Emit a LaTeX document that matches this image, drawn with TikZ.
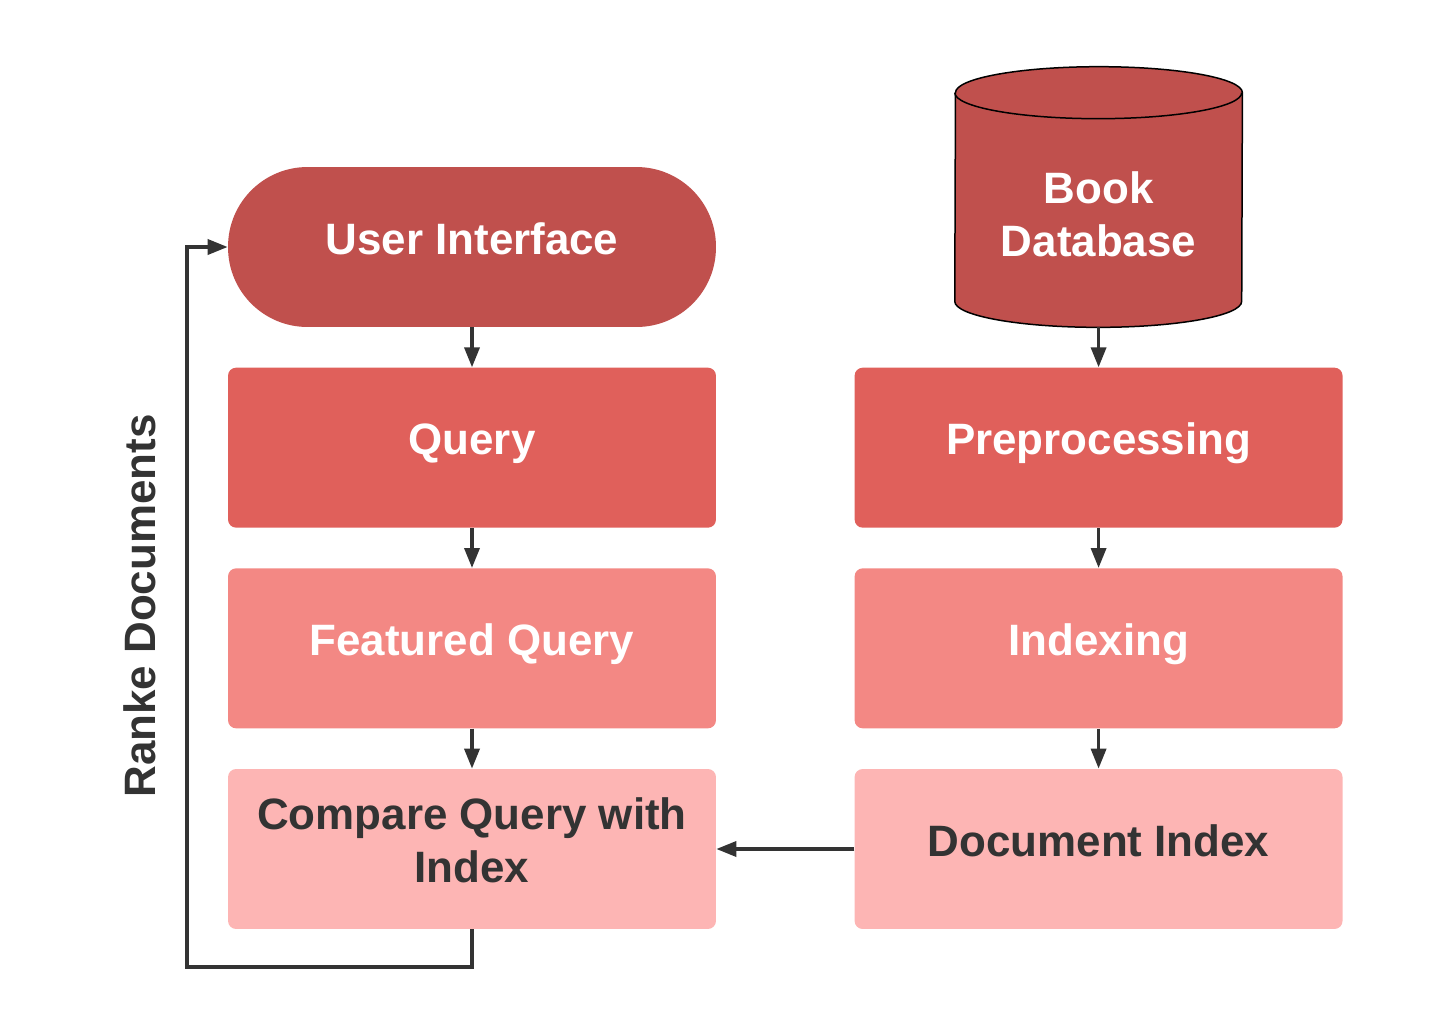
\documentclass[tikz,border=0pt]{standalone}
\usepackage{fontspec}
\setmainfont{Liberation Sans}
\usepackage{xcolor}
\usetikzlibrary{positioning, arrows.meta, backgrounds}
\definecolor{RedDark}{HTML}{C0504D}
\definecolor{RedMid}{HTML}{E0605B}
\definecolor{RedSoft}{HTML}{F38884}
\definecolor{RedPale}{HTML}{FDB5B4}
\definecolor{GreyDark}{HTML}{333333}

\begin{document}
\begin{tikzpicture}[
  x=0.02cm, y=-0.02cm,
  node distance=0.8cm and 2.76cm,
  stage/.style={rectangle, rounded corners=0.16cm, minimum width=9.76cm, minimum height=3.2cm, align=center, font=\fontsize{25}{30}\selectfont\bfseries, text=white, execute at end node={\rule[-0.35cm]{0pt}{0pt}}},
  store/.style={rectangle, minimum width=5.74cm, minimum height=4.52cm, align=center, font=\fontsize{25}{30}\selectfont\bfseries, text=white},
  arrow/.style={-{Triangle[length=0.4cm, width=0.3cm]}, line width=0.07cm, GreyDark}
]
  \useasboundingbox (0,0) rectangle (1429,1035);

  % left column
  \node[stage, fill=RedDark, rounded corners=1.59cm] (ui) at (472,247) {User Interface};
  \node[stage, fill=RedMid, below=of ui] (query) {Query};
  \node[stage, fill=RedSoft, below=of query] (feat) {Featured Query};
  \node[stage, fill=RedPale, text=GreyDark, below=of feat] (cmp) {Compare Query with\\Index};

  % right column
  \node[stage, fill=RedMid, right=of query] (prep) {Preprocessing};
  \node[stage, fill=RedSoft, below=of prep] (idx) {Indexing};
  \node[stage, fill=RedPale, text=GreyDark, below=of idx] (docidx) {Document Index};
  \node[store, above=of prep] (db) {Book\\Database};

  \begin{scope}[on background layer]
    \draw[fill=RedDark, draw=black, line width=0.03cm] ([yshift=0.52cm]db.south west)
      arc[start angle=180, end angle=360, x radius=2.87cm, y radius=0.52cm]
      -- ([yshift=0.16cm]db.north east)
      arc[start angle=0, end angle=180, x radius=2.87cm, y radius=0.52cm] -- cycle;
    \draw[draw=black, line width=0.03cm] ([yshift=0.16cm]db.north west)
      arc[start angle=180, end angle=360, x radius=2.87cm, y radius=0.52cm];
  \end{scope}

  \node[rotate=90, font=\fontsize{25}{30}\selectfont\bfseries, text=GreyDark] (rank) at (140,606) {Ranke Documents};
  \coordinate (loop) at (187,967);

  \draw[arrow] (ui) -- (query);
  \draw[arrow] (query) -- (feat);
  \draw[arrow] (feat) -- (cmp);
  \draw[arrow] (db) -- (prep);
  \draw[arrow] (prep) -- (idx);
  \draw[arrow] (idx) -- (docidx);
  \draw[arrow] (docidx) -- (cmp);
  \draw[arrow] (cmp.south) |- (loop) |- (ui.west);
\end{tikzpicture}
\end{document}
